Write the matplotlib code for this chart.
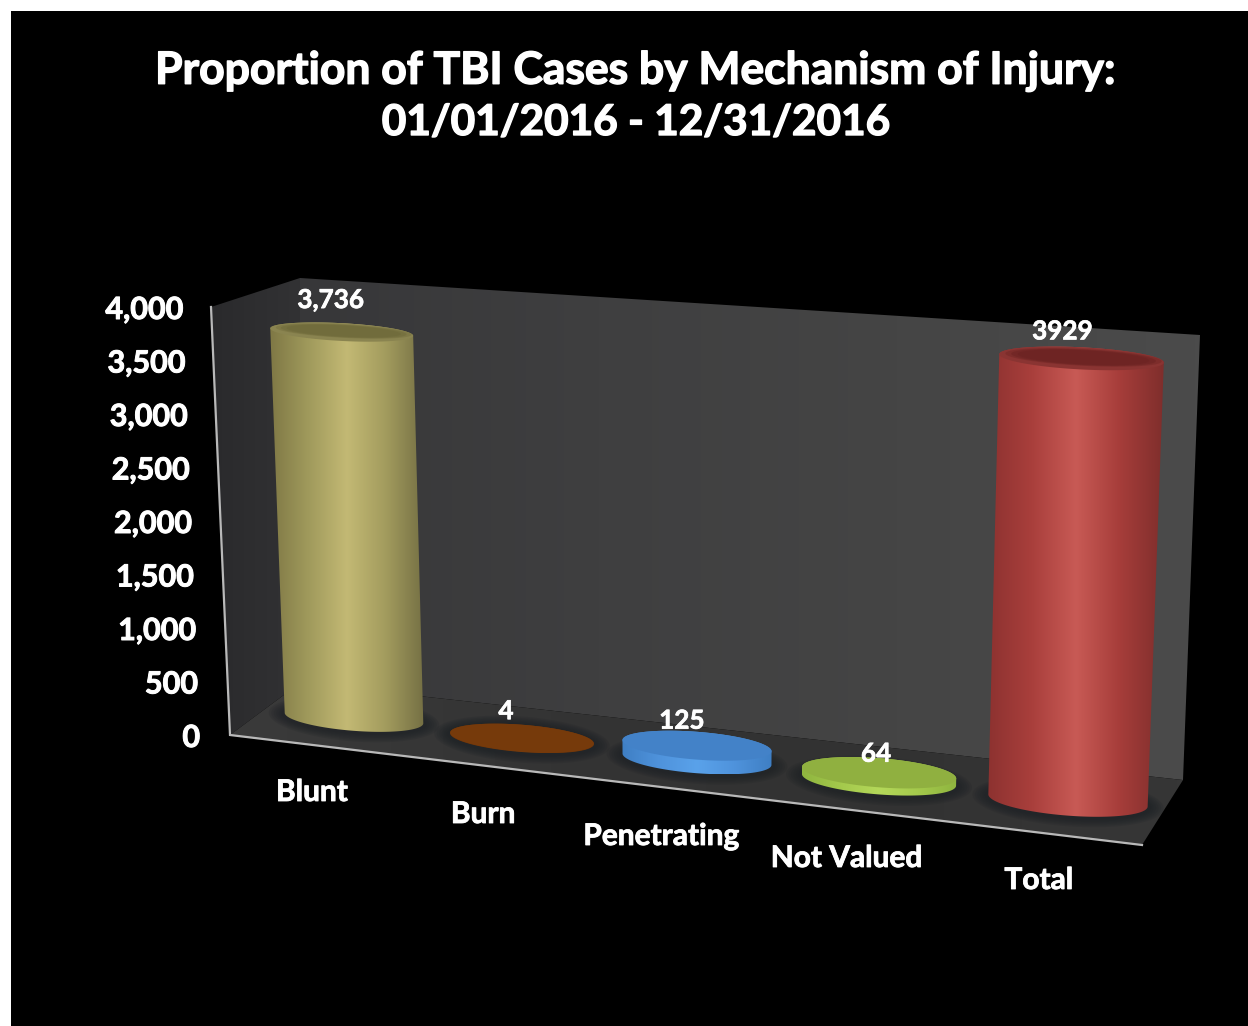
import numpy as np
import matplotlib
matplotlib.use('Agg')
import matplotlib.pyplot as plt
import matplotlib.patheffects as pe
from matplotlib.colors import LinearSegmentedColormap
from matplotlib.patches import Polygon, Rectangle

plt.rcParams['font.family'] = ['Lato', 'DejaVu Sans']

# data
categories = ['Blunt', 'Burn', 'Penetrating', 'Not Valued', 'Total']
values = [3736, 4, 125, 64, 3929]
value_labels = ['3,736', '4', '125', '64', '3929']
axis_ticks = [0, 500, 1000, 1500, 2000, 2500, 3000, 3500, 4000]
title_lines = ['Proportion of TBI Cases by Mechanism of Injury:', '01/01/2016 - 12/31/2016']

side_colors = [
    ['#7f7845', '#a09a5c', '#c3b974', '#a39c5e', '#757044'],
    ['#6a3208', '#73380a', '#7a3c0c', '#73380a', '#6a3208'],
    ['#3f7fc4', '#4f93dc', '#5aa2ea', '#4f93dc', '#3f7fc4'],
    ['#8fb53f', '#a4c94c', '#b4d85a', '#a4c94c', '#8fb53f'],
    ['#8d3230', '#a93f3c', '#c85a55', '#a63d3a', '#7f2e2c'],
]
top_colors = ['#8a8450', '#763a0b', '#4382c8', '#90b040', '#8a3432']
top_inner = ['#6f6a3a', '#763a0b', '#4382c8', '#90b040', '#6b2322']

fig = plt.figure(figsize=(12.48, 10.26), dpi=100, facecolor='white')
ax = fig.add_axes([0, 0, 1, 1])
ax.axis('off')
ax.add_patch(Rectangle((11, 11), 1300, 1100, facecolor='black', edgecolor='none', zorder=0))


def gradient(poly, stops, zorder):
    # horizontal gradient clipped to a polygon
    xs = [p[0] for p in poly]
    ys = [p[1] for p in poly]
    cmap = LinearSegmentedColormap.from_list('g', stops)
    im = ax.imshow(np.linspace(0, 1, 256).reshape(1, -1), cmap=cmap, aspect='auto',
                   extent=[min(xs), max(xs), max(ys), min(ys)], zorder=zorder,
                   interpolation='bilinear')
    im.set_clip_path(Polygon(poly, closed=True, transform=ax.transData))


def ell(cx, cy, a, b, tilt, t0=0, t1=2 * np.pi, n=120):
    t = np.linspace(t0, t1, n)
    th = np.radians(tilt)
    x = cx + a * np.cos(t) * np.cos(th) - b * np.sin(t) * np.sin(th)
    y = cy + a * np.cos(t) * np.sin(th) + b * np.sin(t) * np.cos(th)
    return np.column_stack([x, y])


def label(x, y, s, size, stroke, **kw):
    t = ax.text(x, y, s, color='white', fontsize=size, fontweight='bold', va='center', zorder=10, **kw)
    t.set_path_effects([pe.withStroke(linewidth=stroke, foreground='white')])


# walls and floor
back_wall = [(300, 278), (1200, 335), (1183, 780), (300, 683)]
left_wall = [(211, 307), (300, 278), (300, 683), (230, 735)]
floor = [(230, 735), (300, 683), (1183, 780), (1142, 845)]
gradient(back_wall, ['#373739', '#3f3f40', '#454545', '#4b4b4b'], 1)
gradient(left_wall, ['#2a2a2c', '#323234'], 1)
gradient(floor, ['#3a3a3a', '#343434', '#323232', '#363636'], 2)
ax.plot([211, 230, 1142], [307, 735, 845], color='#b9b9b9', lw=1.6, zorder=3,
        solid_joinstyle='miter')


# front left edge of the chart, value to pixel
def edge_pos(v):
    return 230 - 19 * v / 4000, 735 - 428 * v / 4000


for v in axis_ticks:
    ex, ey = edge_pos(v)
    label(ex - 30 + 2 * v / 4000, ey + 3, f'{v:,}', 22, 0.7, ha='right')

label_off = [(-11, -32), (-16, -27), (-15, -25), (-3, -19), (-19, -27)]

for i, (name, v) in enumerate(zip(categories, values)):
    # floor position of each bar from its category index
    bx = 354 + 164.5 * i + 3.5 * i ** 2
    by = 718 + 20.6 * i
    a0 = 69.5 + 2.6 * i
    b0 = 12.8 + 0.6 * i
    frac = v / 3800
    h = v * (0.1033 + 0.0023 * i)
    tx = bx + (-12.5 + 6.4 * i) * frac
    ty = by - h
    a1 = a0 * (1 + 0.03 * frac)
    b1 = b0 - 4 * frac
    tilt0 = 4.5
    tilt1 = tilt0 - 1.5 * frac

    # soft shadow on the floor
    for k in range(6):
        grow = 16 - k * 2.5
        sh = Polygon(ell(bx, by + 1, a0 + grow, b0 + grow * 0.6, tilt0), closed=True,
                     facecolor='#1c2024', edgecolor='none', alpha=0.16, zorder=4)
        ax.add_patch(sh)

    body = np.vstack([ell(bx, by, a0, b0, tilt0, np.pi, 0), ell(tx, ty, a1, b1, tilt1, 0, -np.pi)])
    gradient([tuple(p) for p in body], side_colors[i], 5)
    ax.add_patch(Polygon(ell(tx, ty, a1, b1, tilt1), closed=True, facecolor=top_colors[i],
                         edgecolor='none', zorder=6))
    if v > 1000:
        # darker centre of the lid, lighter rim
        for sc, al in [(0.95, 0.4), (0.88, 0.5), (0.8, 0.6)]:
            inner = ell(tx + 2, ty - 1, a1 * sc, b1 * sc * 0.8, tilt1)
            ax.add_patch(Polygon(inner, closed=True, facecolor=top_inner[i], edgecolor='none',
                                 alpha=al, zorder=6))

    ox, oy = label_off[i]
    label(tx + ox, ty + oy, value_labels[i], 18.8, 0.5, ha='center')
    label(bx - 42 + 3.2 * i, 792 + 22 * i, name, 21.5, 0.6, ha='center')

label(636, 71, title_lines[0], 32, 1.0, ha='center')
label(636, 123, title_lines[1], 30.5, 1.0, ha='center')

ax.set_xlim(0, 1248)
ax.set_ylim(1026, 0)
fig.savefig('out.png', dpi=100, facecolor='white')
